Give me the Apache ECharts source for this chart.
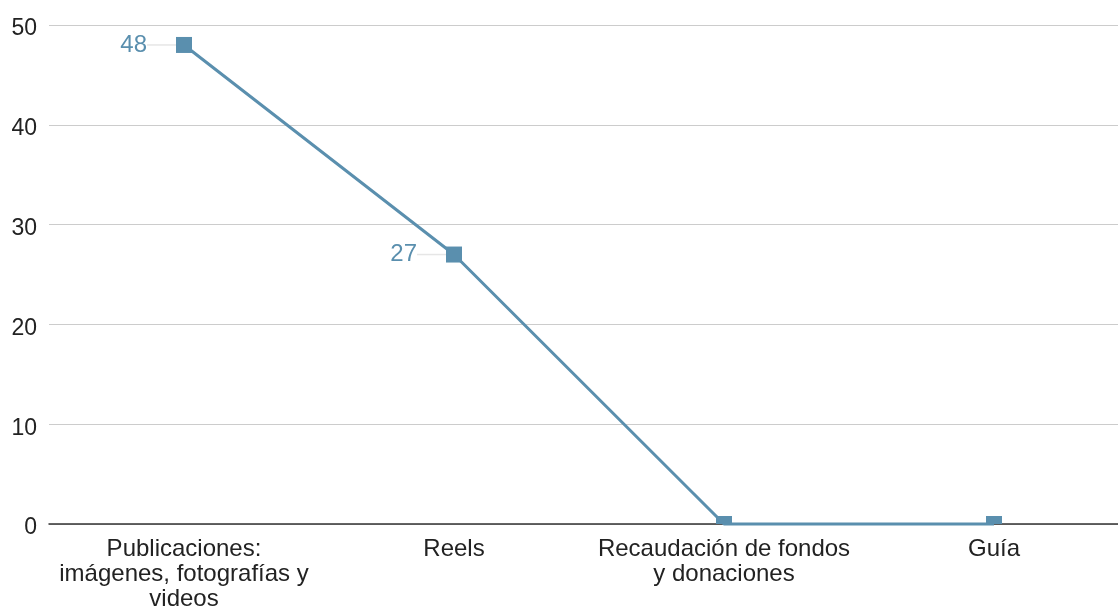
<!DOCTYPE html>
<html>
<head>
<meta charset="utf-8">
<style>
  html, body { margin: 0; padding: 0; background: #ffffff; overflow: hidden; }
  /* the plot runs slightly past the right edge of the window */
  #chart { width: 1129px; height: 614px; }
</style>
<script src="https://cdn.jsdelivr.net/npm/echarts@6/dist/echarts.min.js"></script>
</head>
<body>
<div id="chart"></div>
<script>
// Categories and values for the line
const categories = [
  'Publicaciones:\nimágenes, fotografías y\nvideos',
  'Reels',
  'Recaudación de fondos\ny donaciones',
  'Guía'
];
const values = [48, 27, 0, 0];
// Only the non-zero points carry a value label
const labelled = [true, true, false, false];

const lineColor = '#5a8fae';
const fontFamily = '"Liberation Sans", Arial, sans-serif';
const markerSize = 16;

const chart = echarts.init(document.getElementById('chart'), null, { renderer: 'canvas' });

chart.setOption({
  animation: false,
  backgroundColor: '#ffffff',
  grid: { left: 49, top: 25, right: 0, bottom: 90, containLabel: false },
  xAxis: {
    type: 'category',
    data: categories,
    boundaryGap: true,
    axisLine: { show: true, lineStyle: { color: '#333333', width: 1.5 } },
    axisTick: { show: false },
    axisLabel: {
      color: '#222222',
      fontFamily: fontFamily,
      fontSize: 24,
      lineHeight: 25,
      margin: 13,
      interval: 0
    },
    splitLine: { show: false }
  },
  yAxis: {
    type: 'value',
    min: 0,
    max: 50,
    interval: 10,
    axisLine: { show: false },
    axisTick: { show: false },
    axisLabel: {
      margin: 12,
      formatter: v => '{t|' + v + '}',
      rich: {
        t: {
          color: '#222222',
          fontFamily: fontFamily,
          fontSize: 23,
          padding: [8, 0, 0, 0]
        }
      }
    },
    splitLine: { lineStyle: { color: '#cccccc', width: 1 } }
  },
  series: [{
    type: 'line',
    data: values.map((v, i) => {
      const item = { value: v, label: { show: labelled[i] } };
      // points sitting on the baseline only show their upper half
      if (v === 0) {
        item.symbolSize = [markerSize, markerSize / 2];
        item.symbolOffset = [0, -markerSize / 4];
      }
      return item;
    }),
    symbol: 'rect',
    symbolSize: markerSize,
    clip: false,
    lineStyle: { color: lineColor, width: 3 },
    itemStyle: { color: lineColor },
    label: {
      show: true,
      position: 'left',
      distance: 8,
      color: lineColor,
      fontFamily: fontFamily,
      fontSize: 24,
      padding: [8, 0, 0, 0]
    },
    labelLayout: { dx: -21 },
    labelLine: {
      show: true,
      lineStyle: { color: '#e6e6e6', width: 1.5 }
    }
  }]
});
</script>
</body>
</html>
